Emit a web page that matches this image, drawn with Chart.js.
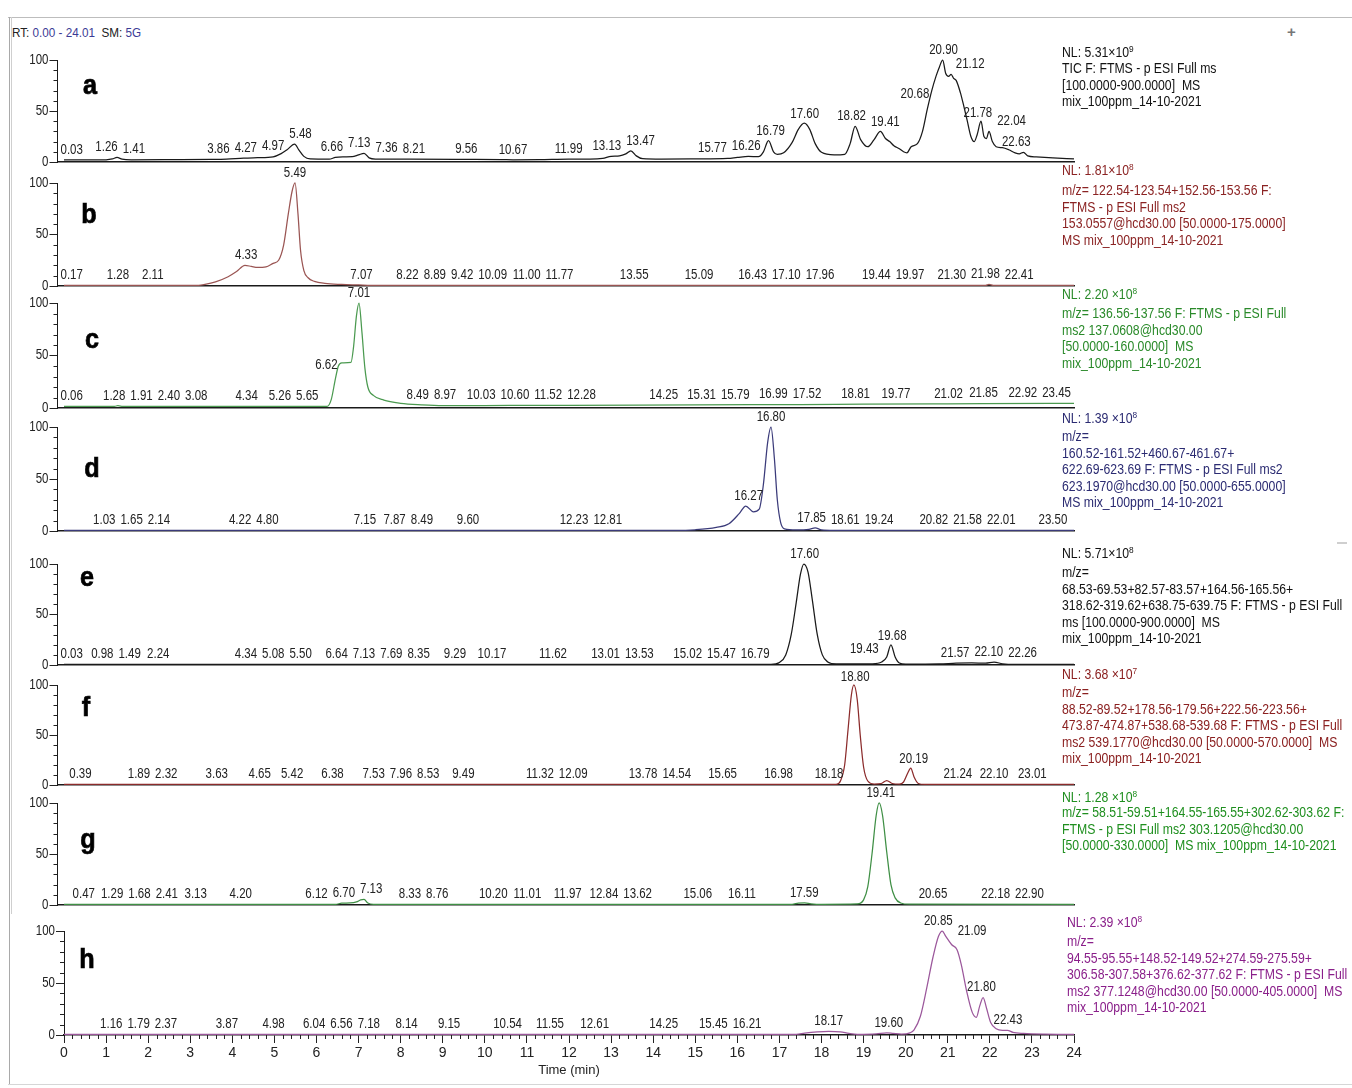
<!DOCTYPE html>
<html><head><meta charset="utf-8">
<script src="https://cdn.jsdelivr.net/npm/chart.js@4.4.0/dist/chart.umd.min.js"></script>
<style>
html,body{margin:0;padding:0;background:#fff;}
body{width:1352px;height:1088px;position:relative;overflow:hidden;font-family:"Liberation Sans Narrow","Arial Narrow","Liberation Sans",sans-serif;color:#222;}
canvas.panel{position:absolute;left:0;}
.info,.nl{position:absolute;font-size:14px;white-space:nowrap;transform:scaleX(0.875);transform-origin:0 0;}
.info{line-height:16.5px;}
.nl{line-height:16px;}
.nl sup{font-size:9.5px;vertical-align:5px;line-height:0;}
.letter{position:absolute;width:30px;text-align:center;font-weight:bold;font-size:28px;line-height:28px;color:#000;-webkit-text-stroke:0.7px #000;transform:scaleX(0.9);}
.rt{position:absolute;left:12px;top:25px;font-size:13px;line-height:16px;color:#222;transform:scaleX(0.9);transform-origin:0 0;}
.rt b{font-weight:normal;color:#3b3b95;}
.line{position:absolute;background:#bdbdbd;}
</style>
</head><body>
<div class="line" style="left:8px;top:17px;width:1344px;height:1px;"></div>
<div class="line" style="left:9px;top:17px;width:1px;height:1068px;background:#a9a9a9;"></div>
<div class="line" style="left:11px;top:17px;width:1px;height:897px;background:#cfcfcf;"></div>
<div class="line" style="left:8px;top:1084px;width:1344px;height:1px;background:#d6d6d6;"></div>
<div class="line" style="left:1337px;top:542px;width:10px;height:2px;background:#cfcfcf;"></div>
<div style="position:absolute;left:1287px;top:23px;font-size:15px;font-weight:bold;color:#777;">+</div>
<div class="rt">RT: <b>0.00 - 24.01</b> &nbsp;SM: <b>5G</b></div>
<script>
const FONT = '"Liberation Sans Narrow","Arial Narrow","Liberation Sans",sans-serif';

// ---------- data: [retention time (min), relative abundance (%)] ----------
const traceA = [[0,2],[0.5,2],[1.0,2.2],[1.15,3],[1.26,4.5],[1.38,2.8],[1.6,2.2],[2.5,2.3],[3.5,2.5],[3.86,2.8],[4.27,3.8],[4.6,4.2],[4.97,5],[5.15,8],[5.3,12],[5.48,17.5],[5.58,12],[5.7,5.5],[5.85,3],[6.3,2.8],[6.45,4.5],[6.66,5],[6.85,5.2],[7.0,7],[7.13,8.5],[7.25,4],[7.4,2.8],[8.21,2.8],[9.56,2.6],[10.4,2.4],[10.67,2.2],[11.3,2.3],[11.99,2.8],[12.5,2.8],[12.8,3.5],[13.0,5.5],[13.2,6],[13.35,8],[13.47,11],[13.6,6],[13.75,3.2],[14.2,2.8],[15.0,3],[15.77,3.5],[16.0,4.5],[16.26,5.5],[16.5,5.2],[16.62,10],[16.74,21],[16.86,10],[16.95,7.5],[17.1,9],[17.3,19],[17.45,32],[17.59,38],[17.72,32],[17.85,18],[18.0,9.5],[18.3,7],[18.55,7.5],[18.68,18],[18.8,35],[18.93,22],[19.1,15],[19.25,22],[19.4,30],[19.52,23],[19.62,20],[19.72,16],[19.85,13],[19.95,10],[20.03,9],[20.13,15],[20.28,18],[20.4,30],[20.51,51],[20.62,70],[20.72,84],[20.8,93],[20.88,100],[20.95,87],[21.02,84],[21.08,86],[21.14,82],[21.2,80],[21.3,68],[21.38,55],[21.46,41],[21.55,25],[21.63,20],[21.7,27],[21.79,40],[21.86,25],[21.92,23],[21.98,30],[22.06,20],[22.15,15],[22.3,14],[22.45,12],[22.6,9],[22.7,8],[22.8,9.5],[22.9,6],[23.1,5],[23.5,4],[24,3]];
const traceB = [[0,0.6],[3.2,0.6],[3.35,1.5],[3.6,4],[3.9,9],[4.1,14],[4.3,20],[4.45,19],[4.6,18],[4.8,18.5],[4.97,22],[5.1,25],[5.22,40],[5.33,70],[5.42,92],[5.49,100],[5.56,70],[5.62,35],[5.7,15],[5.8,8],[5.95,4.5],[6.2,2.5],[6.6,1.5],[7.0,1],[7.3,0.6],[21.9,0.6],[21.98,1.6],[22.08,0.6],[24,0.6]];
const traceC = [[0,1.5],[1.2,1.6],[1.28,2.2],[1.4,1.5],[3,1.5],[5,1.6],[6.25,1.6],[6.35,8],[6.45,28],[6.52,40],[6.6,43],[6.82,43.5],[6.88,58],[6.95,88],[7.01,100],[7.08,72],[7.15,38],[7.22,20],[7.35,12],[7.6,7.5],[8.0,4.5],[8.49,3],[9.0,2.2],[10.6,2.4],[12,2.5],[15,3],[17.5,3.3],[19,3.6],[21,4],[23.45,4.5],[24,4.5]];
const traceD = [[0,0.6],[14.5,0.6],[15.0,1.2],[15.5,3.5],[15.8,7],[16.05,17],[16.2,24],[16.38,18.5],[16.52,21],[16.62,45],[16.72,85],[16.8,100],[16.88,70],[16.95,30],[17.03,8],[17.12,2],[17.4,1],[17.7,1.5],[17.85,3],[18.0,1],[18.3,0.6],[24,0.6]];
const traceE = [[0,0.6],[16.8,0.6],[17.0,2.5],[17.15,10],[17.28,30],[17.4,62],[17.5,90],[17.58,100],[17.68,92],[17.78,65],[17.9,30],[18.02,10],[18.15,3],[18.35,1],[19.2,1.2],[19.43,3],[19.55,8],[19.65,20],[19.75,8],[19.85,2],[20.0,0.8],[20.8,1],[21.2,1.8],[21.57,2],[21.9,1.8],[22.1,2.8],[22.3,1.2],[22.6,0.6],[24,0.6]];
const traceF = [[0,0.6],[18.35,0.6],[18.45,4],[18.55,20],[18.63,55],[18.71,90],[18.77,100],[18.85,85],[18.92,50],[19.0,18],[19.1,4],[19.25,1],[19.42,1.5],[19.55,4.5],[19.68,1.5],[19.85,0.8],[19.95,3],[20.05,12],[20.12,17],[20.2,8],[20.3,1.5],[20.45,0.6],[24,0.6]];
const traceG = [[0,0.6],[6.45,0.6],[6.6,1.8],[6.8,2],[6.95,3],[7.05,5],[7.13,5.5],[7.22,2],[7.35,0.7],[17.3,0.7],[17.45,1.8],[17.6,2],[17.75,1.2],[18.0,0.7],[18.85,1],[19.0,5],[19.1,18],[19.2,50],[19.3,88],[19.37,100],[19.45,88],[19.55,52],[19.65,20],[19.75,7],[19.88,2],[20.1,0.8],[24,0.6]];
const traceH = [[0,0.6],[17.4,0.6],[17.6,1.8],[17.9,3],[18.17,3.5],[18.45,3],[18.65,1.5],[18.85,0.6],[19.3,1],[19.55,2],[19.7,1.5],[19.9,0.8],[20.1,2],[20.2,5],[20.35,18],[20.5,45],[20.65,75],[20.78,95],[20.87,100],[20.95,95],[21.09,87],[21.22,82],[21.32,68],[21.45,42],[21.58,22],[21.68,17],[21.76,28],[21.84,36],[21.92,26],[22.02,12],[22.15,6],[22.3,4.5],[22.42,4.5],[22.55,2.5],[22.8,1.5],[23.3,0.8],[24,0.6]];

// ---------- peak labels (retention times) ----------
const peaksA = ['0.03','1.26','1.41','3.86','4.27','4.97','5.48','6.66','7.13','7.36','8.21','9.56','10.67','11.99','13.13','13.47','15.77','16.26','16.79','17.60','18.82','19.41','20.68','20.90','21.12','21.78','22.04','22.63'];
const peaksB = ['0.17','1.28','2.11','4.33','5.49','7.07','8.22','8.89','9.42','10.09','11.00','11.77','13.55','15.09','16.43','17.10','17.96','19.44','19.97','21.30','21.98','22.41'];
const peaksC = ['0.06','1.28','1.91','2.40','3.08','4.34','5.26','5.65','6.62','7.01','8.49','8.97','10.03','10.60','11.52','12.28','14.25','15.31','15.79','16.99','17.52','18.81','19.77','21.02','21.85','22.92','23.45'];
const peaksD = ['1.03','1.65','2.14','4.22','4.80','7.15','7.87','8.49','9.60','12.23','12.81','16.27','16.80','17.85','18.61','19.24','20.82','21.58','22.01','23.50'];
const peaksE = ['0.03','0.98','1.49','2.24','4.34','5.08','5.50','6.64','7.13','7.69','8.35','9.29','10.17','11.62','13.01','13.53','15.02','15.47','16.79','17.60','19.43','19.68','21.57','22.10','22.26'];
const peaksF = ['0.39','1.89','2.32','3.63','4.65','5.42','6.38','7.53','7.96','8.53','9.49','11.32','12.09','13.78','14.54','15.65','16.98','18.18','18.80','20.19','21.24','22.10','23.01'];
const peaksG = ['0.47','1.29','1.68','2.41','3.13','4.20','6.12','6.70','7.13','8.33','8.76','10.20','11.01','11.97','12.84','13.62','15.06','16.11','17.59','19.41','20.65','22.18','22.90'];
const peaksH = ['1.16','1.79','2.37','3.87','4.98','6.04','6.56','7.18','8.14','9.15','10.54','11.55','12.61','14.25','15.45','16.21','18.17','19.60','20.85','21.09','21.80','22.43'];

// ---------- panel texts ----------
const nlValues = [['5.31','9'],['1.81','8'],['2.20 ','8'],['1.39 ','8'],['5.71','8'],['3.68 ','7'],['1.28 ','8'],['2.39 ','8']];
const infoA = ['TIC F: FTMS - p ESI Full ms','[100.0000-900.0000]&nbsp; MS','mix_100ppm_14-10-2021'];
const infoB = ['m/z= 122.54-123.54+152.56-153.56 F:','FTMS - p ESI Full ms2','153.0557@hcd30.00 [50.0000-175.0000]','MS mix_100ppm_14-10-2021'];
const infoC = ['m/z= 136.56-137.56 F: FTMS - p ESI Full','ms2 137.0608@hcd30.00','[50.0000-160.0000]&nbsp; MS','mix_100ppm_14-10-2021'];
const infoD = ['m/z=','160.52-161.52+460.67-461.67+','622.69-623.69 F: FTMS - p ESI Full ms2','623.1970@hcd30.00 [50.0000-655.0000]','MS mix_100ppm_14-10-2021'];
const infoE = ['m/z=','68.53-69.53+82.57-83.57+164.56-165.56+','318.62-319.62+638.75-639.75 F: FTMS - p ESI Full','ms [100.0000-900.0000]&nbsp; MS','mix_100ppm_14-10-2021'];
const infoF = ['m/z=','88.52-89.52+178.56-179.56+222.56-223.56+','473.87-474.87+538.68-539.68 F: FTMS - p ESI Full','ms2 539.1770@hcd30.00 [50.0000-570.0000]&nbsp; MS','mix_100ppm_14-10-2021'];
const infoG = ['m/z= 58.51-59.51+164.55-165.55+302.62-303.62 F:','FTMS - p ESI Full ms2 303.1205@hcd30.00','[50.0000-330.0000]&nbsp; MS mix_100ppm_14-10-2021'];
const infoH = ['m/z=','94.55-95.55+148.52-149.52+274.59-275.59+','306.58-307.58+376.62-377.62 F: FTMS - p ESI Full','ms2 377.1248@hcd30.00 [50.0000-405.0000]&nbsp; MS','mix_100ppm_14-10-2021'];
const letters = ['a','b','c','d','e','f','g','h'];

// ---------- layout / style ----------
const X_ZERO = 64, X_END = 1074, PX_PER_MIN = (X_END - X_ZERO) / 24;
const NARROW = 0.82;
const panels = [
  {trace:traceA, peaks:peaksA, info:infoA, y100:60,  y0:162, axisX:57.5, line:'#1a1a1a', text:'#111',    nlTop:44,  infoTop:60,  letterBase:95,  letterX:75, hints:{'16.26':'right','20.68':'side','21.12':'left','22.04':'left'}},
  {trace:traceB, peaks:peaksB, info:infoB, y100:183, y0:286, axisX:57.5, line:'#9a5553', text:'#8b2323', nlTop:162, infoTop:182, letterBase:224, letterX:74, hints:{}},
  {trace:traceC, peaks:peaksC, info:infoC, y100:303, y0:408, axisX:57.5, line:'#4b9a50', text:'#2a8a2a', nlTop:286, infoTop:305, letterBase:349, letterX:77, hints:{'6.62':'side'}},
  {trace:traceD, peaks:peaksD, info:infoD, y100:427, y0:531, axisX:57.5, line:'#3b3b7a', text:'#2b2b72', nlTop:410, infoTop:428, letterBase:478, letterX:77, hints:{}},
  {trace:traceE, peaks:peaksE, info:infoE, y100:564, y0:665, axisX:57.5, line:'#1a1a1a', text:'#111',    nlTop:545, infoTop:564, letterBase:587, letterX:72, hints:{'16.79':'right','19.43':'right'}},
  {trace:traceF, peaks:peaksF, info:infoF, y100:685, y0:785, axisX:57.5, line:'#8b2b2b', text:'#8b2020', nlTop:666, infoTop:684, letterBase:717, letterX:71, hints:{}},
  {trace:traceG, peaks:peaksG, info:infoG, y100:803, y0:905, axisX:57.5, line:'#3f8f45', text:'#1f8f1f', nlTop:789, infoTop:804, letterBase:849, letterX:73, hints:{}},
  {trace:traceH, peaks:peaksH, info:infoH, y100:931, y0:1035, axisX:64,  line:'#9b579b', text:'#8a1f8a', nlTop:914, infoTop:933, letterBase:969, letterX:72, hints:{'21.09':'left'}}
];

function interp(tr, t){
  if (t <= tr[0][0]) return tr[0][1];
  for (let i = 1; i < tr.length; i++){
    if (t <= tr[i][0]){
      const [x0,y0] = tr[i-1], [x1,y1] = tr[i];
      return y0 + (y1 - y0) * (t - x0) / (x1 - x0);
    }
  }
  return tr[tr.length-1][1];
}

function narrowText(ctx, s, x, y){
  ctx.save();
  ctx.translate(x, y);
  ctx.scale(NARROW, 1);
  ctx.fillText(s, 0, 0);
  ctx.restore();
}

const axisExtras = {
  id:'axisExtras',
  afterDraw(chart, args, o){
    const ctx = chart.ctx, ys = chart.scales.y, xs = chart.scales.x, ca = chart.chartArea;
    ctx.save(); ctx.strokeStyle = '#222'; ctx.lineWidth = 1;
    ctx.beginPath();
    for (let v = 10; v < 100; v += 10){
      if (v === 50) continue;
      const y = Math.round(ys.getPixelForValue(v)) + 0.5;
      ctx.moveTo(ca.left - 4, y); ctx.lineTo(ca.left, y);
    }
    if (o.xMinor){
      for (let k = 1; k < 120; k++){
        if (k % 5 === 0) continue;
        const x = Math.round(xs.getPixelForValue(k / 5)) + 0.5;
        ctx.moveTo(x, ca.bottom); ctx.lineTo(x, ca.bottom + 4);
      }
    }
    ctx.stroke();
    ctx.font = '14px ' + FONT;
    ctx.fillStyle = '#222';
    ctx.textAlign = 'right';
    ctx.textBaseline = 'middle';
    ys.ticks.forEach(t => narrowText(ctx, String(t.value), ca.left - 9, ys.getPixelForValue(t.value)));
    ctx.restore();
  }
};

const peakLabels = {
  id:'peakLabels',
  afterDatasetsDraw(chart, args, o){
    const ctx = chart.ctx, xs = chart.scales.x, ys = chart.scales.y, ca = chart.chartArea;
    ctx.save();
    ctx.font = '14px ' + FONT;
    ctx.fillStyle = '#222';
    ctx.textBaseline = 'bottom';
    ctx.textAlign = 'center';
    const boxes = o.labels.map(s => {
      const t = parseFloat(s);
      const hint = o.hints[s];
      let v = 0;
      for (let dt = -0.06; dt <= 0.0601; dt += 0.02) v = Math.max(v, interp(o.trace, t + dt));
      const w = ctx.measureText(s).width * NARROW;
      const px = xs.getPixelForValue(t);
      let cx = px, by = ys.getPixelForValue(v) - 3;
      if (hint === 'right') cx = px - w / 2 - 3;
      if (hint === 'left') cx = px + w / 2 + 3;
      if (hint === 'side'){
        cx = px - w / 2 - 5;
        by = ys.getPixelForValue(interp(o.trace, t - 0.08)) + 7;
      }
      return {s, cx, by, w};
    });
    for (let it = 0; it < 80; it++){
      boxes.sort((a, b) => a.cx - b.cx);
      for (let i = 0; i < boxes.length - 1; i++){
        for (let j = i + 1; j < boxes.length; j++){
          const A = boxes[i], B = boxes[j];
          if (Math.abs(A.by - B.by) >= 13) continue;
          const need = (A.w + B.w) / 2 + 5, d = B.cx - A.cx;
          if (d < need){ const p = (need - d) / 2; A.cx -= p; B.cx += p; }
        }
      }
      boxes.forEach(b => { b.cx = Math.max(b.cx, ca.left + b.w / 2 + 3); });
    }
    boxes.forEach(b => narrowText(ctx, b.s, b.cx, b.by));
    ctx.restore();
  }
};

panels.forEach((p, i) => {
  const last = i === panels.length - 1;
  const padTop = 22;
  const top = p.y100 - padTop;
  const height = last ? (1088 - top) : (p.y0 - p.y100) + padTop + 4;
  const padBottom = last ? (1088 - p.y0 - 46) : 4;
  const cv = document.createElement('canvas');
  cv.className = 'panel';
  cv.width = 1352; cv.height = height;
  cv.style.top = top + 'px'; cv.style.width = '1352px'; cv.style.height = height + 'px';
  document.body.appendChild(cv);
  const xMin = (p.axisX - X_ZERO) / PX_PER_MIN;
  new Chart(cv, {
    type:'line',
    data:{datasets:[{
      data: p.trace.map(([x, y]) => ({x, y})),
      borderColor: p.line, borderWidth: 1.25, pointRadius: 0,
      cubicInterpolationMode: 'monotone', fill: false, clip: false
    }]},
    options:{
      responsive:false, animation:false, events:[],
      layout:{padding:{left:0, right:1352 - X_END, top:padTop, bottom:padBottom}},
      plugins:{
        legend:{display:false}, tooltip:{enabled:false},
        peakLabels:{labels:p.peaks, trace:p.trace, hints:p.hints},
        axisExtras:{xMinor:last}
      },
      scales:{
        x:{
          type:'linear', min:xMin, max:24,
          afterFit: s => { s.height = last ? 46 : 0; },
          grid:{display:last, drawOnChartArea:false, drawTicks:last, tickLength:8, color:'#222'},
          border:{display:true, color:'#1a1a1a', width:1.5},
          ticks:{display:last, stepSize:1, autoSkip:false, maxRotation:0, padding:2,
                 font:{family:FONT, size:14}, color:'#222'},
          title:{display:last, text:'Time (min)', font:{family:FONT, size:13}, color:'#222', padding:{top:0, bottom:3}}
        },
        y:{
          min:0, max:100,
          afterFit: s => { s.width = p.axisX; },
          grid:{drawOnChartArea:false, tickLength:8, color:'#222'},
          border:{display:true, color:'#1a1a1a', width:1},
          ticks:{stepSize:50, display:false}
        }
      }
    },
    plugins:[axisExtras, peakLabels]
  });

  const nl = document.createElement('div');
  nl.className = 'nl';
  nl.style.left = (last ? 1067 : 1062) + 'px';
  nl.style.top = p.nlTop + 'px';
  nl.style.color = p.text;
  nl.innerHTML = 'NL: ' + nlValues[i][0] + '×10<sup>' + nlValues[i][1] + '</sup>';
  document.body.appendChild(nl);

  const info = document.createElement('div');
  info.className = 'info';
  info.style.left = (last ? 1067 : 1062) + 'px';
  info.style.top = p.infoTop + 'px';
  info.style.color = p.text;
  info.innerHTML = p.info.join('<br>');
  document.body.appendChild(info);

  const lt = document.createElement('div');
  lt.className = 'letter';
  lt.style.left = p.letterX + 'px';
  lt.style.top = (p.letterBase - 24) + 'px';
  lt.textContent = letters[i];
  document.body.appendChild(lt);
});
</script>
</body></html>
